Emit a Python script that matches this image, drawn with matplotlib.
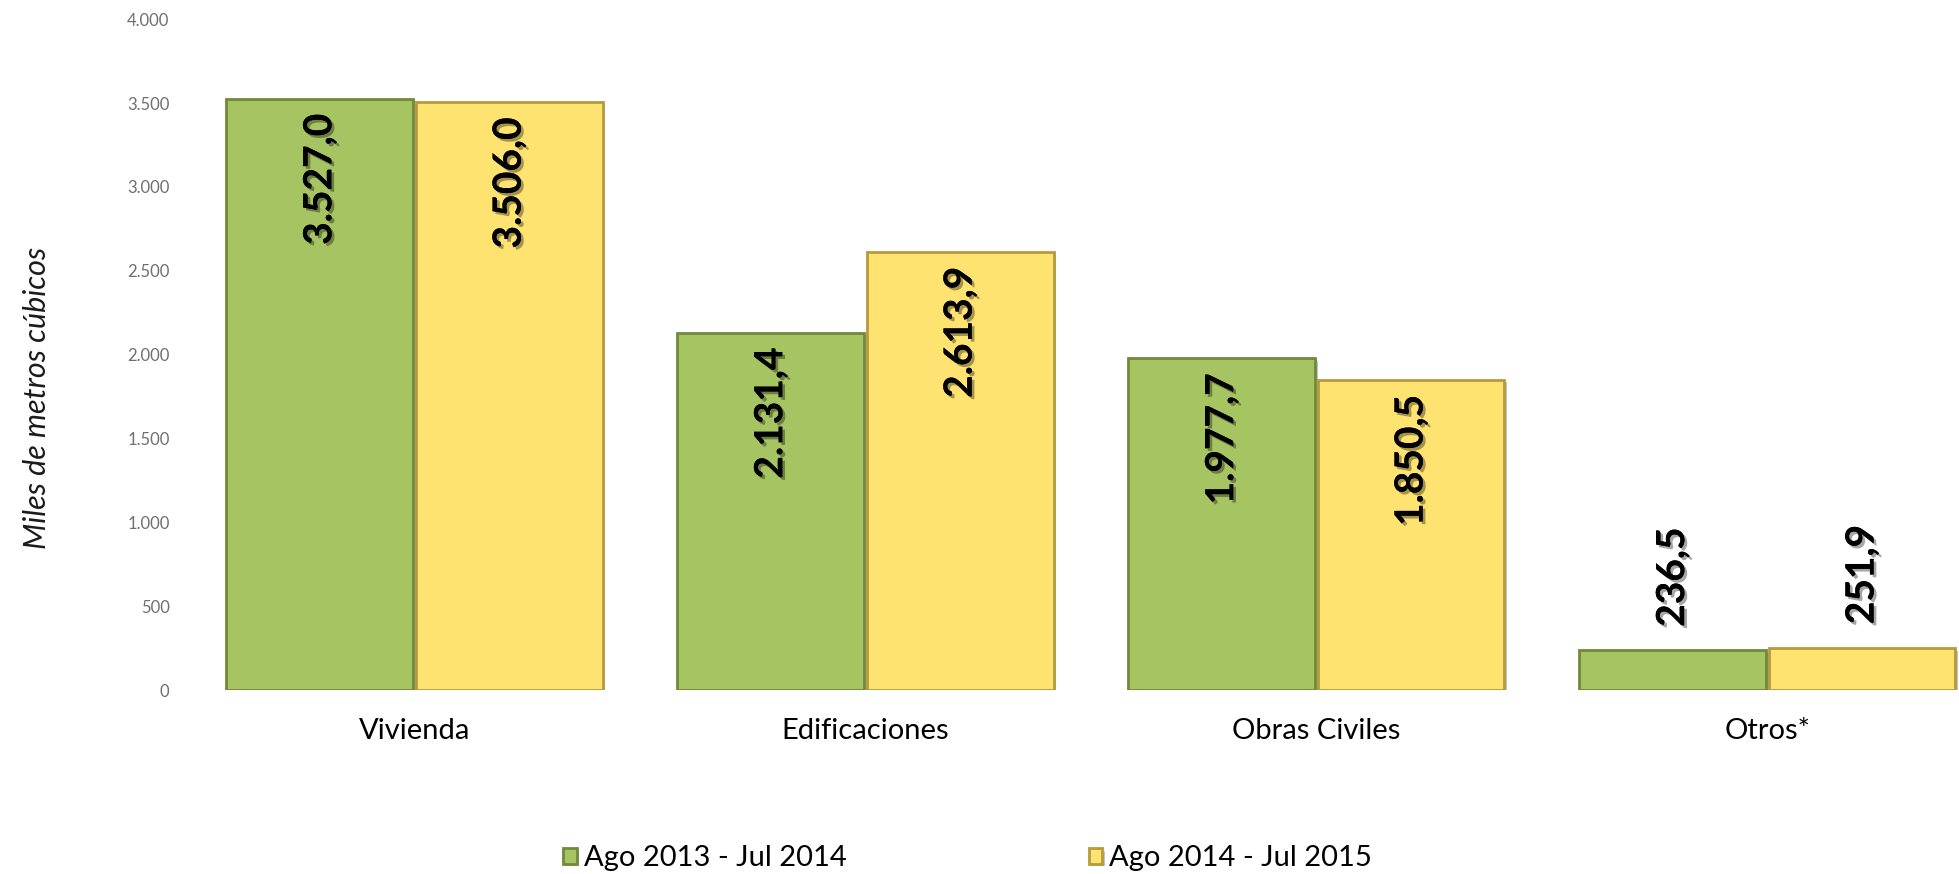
import numpy as np
from matplotlib import pyplot as plt
from matplotlib import patheffects as pe

categories = ["Vivienda", "Edificaciones", "Obras Civiles", "Otros*"]
periodo_1 = [3527.0, 2131.4, 1977.7, 236.5]
periodo_2 = [3506.0, 2613.9, 1850.5, 251.9]
series_names = ["Ago 2013 - Jul 2014", "Ago 2014 - Jul 2015"]
yticks = [0, 500, 1000, 1500, 2000, 2500, 3000, 3500, 4000]


def fmt_es(v, dec=1):
    # 3527.0 -> "3.527,0"
    s = f"{v:,.{dec}f}"
    return s.replace(",", "X").replace(".", ",").replace("X", ".")


plt.rcParams['font.family'] = ['Lato', 'DejaVu Sans']

fig = plt.figure(figsize=(19.59, 8.74), dpi=100)
ax = fig.add_axes([0.0965, 0.2105, 0.9035, 0.7675])

x = np.arange(len(categories))
w = 0.414
shadow = [pe.withSimplePatchShadow(offset=(2, -2), shadow_rgbFace='#555555', alpha=0.35)]
b1 = ax.bar(x - w / 2 - 0.003, periodo_1, w, color='#A6C462', edgecolor='#71893B',
            linewidth=2, label=series_names[0], path_effects=shadow)
b2 = ax.bar(x + w / 2 + 0.003, periodo_2, w, color='#FFE370', edgecolor='#B59B3C',
            linewidth=2, label=series_names[1], path_effects=shadow)

txt_fx = [pe.withSimplePatchShadow(offset=(2, -2), shadow_rgbFace='#000000', alpha=0.35), pe.Normal()]
for bars, vals in [(b1, periodo_1), (b2, periodo_2)]:
    for rect, v in zip(bars, vals):
        cx = rect.get_x() + rect.get_width() / 2
        if v > 1000:
            ax.annotate(fmt_es(v), (cx, v), xytext=(0, -11), textcoords='offset points',
                        rotation=90, ha='center', va='top', fontsize=28,
                        fontweight='bold', color='black', path_effects=txt_fx)
        else:
            ax.annotate(fmt_es(v), (cx, v), xytext=(0, 17), textcoords='offset points',
                        rotation=90, ha='center', va='bottom', fontsize=28,
                        fontweight='bold', color='black', path_effects=txt_fx)

ax.set_xlim(-0.5, 3.425)
ax.set_ylim(0, 4000)
ax.set_yticks(yticks)
ax.set_yticklabels([fmt_es(t, 0) for t in yticks], color='#6F6F6F', fontsize=12)
ax.set_xticks(x)
ax.set_xticklabels(categories, fontsize=21, color='black')
ax.tick_params(axis='y', length=0, pad=14)
ax.tick_params(axis='x', length=0, pad=20)
for s in ax.spines.values():
    s.set_visible(False)

fig.text(0.019, 0.545, "Miles de metros cúbicos", rotation=90, ha='center', va='center',
         fontsize=22, style='italic', color='#1A1A1A')

fig.legend(handles=[b1, b2], loc='center', bbox_to_anchor=(0.494, 0.018), ncol=2,
           frameon=False, fontsize=21, handlelength=0.45, handleheight=0.45,
           handletextpad=0.25, columnspacing=8.3)

fig.savefig('out.png', dpi=100)
